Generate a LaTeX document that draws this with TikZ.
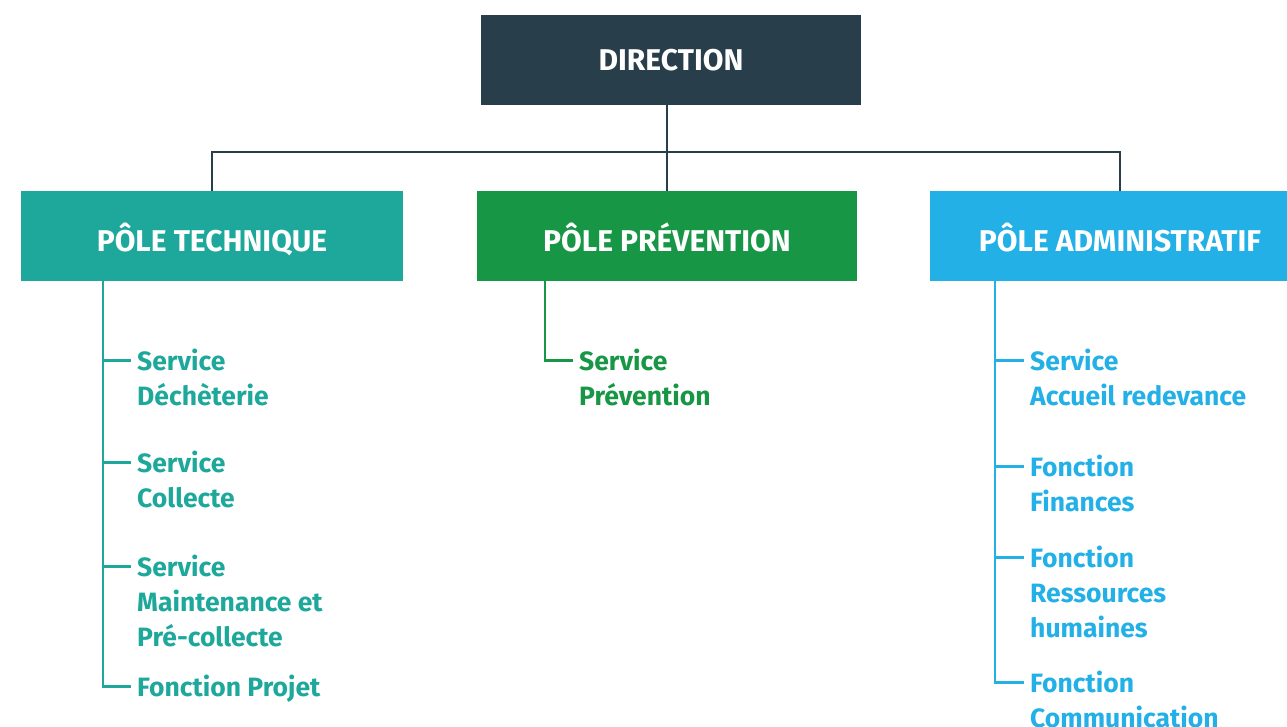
\documentclass[tikz,border=0pt]{standalone}
\usepackage{fontspec}
\setmainfont{Fira Sans}[BoldFont={* Bold}]
\usepackage{tikz}
\usetikzlibrary{positioning}

\definecolor{dircol}{HTML}{283F4B}
\definecolor{techcol}{HTML}{1DA89B}
\definecolor{prevcol}{HTML}{179645}
\definecolor{admcol}{HTML}{22B0E6}

\begin{document}
\begin{tikzpicture}[x=1pt,y=-1pt,
    pole/.style={rectangle,minimum width=380pt,minimum height=90pt,inner sep=0pt,
        text height=30pt,text depth=0pt,
        text=white,font=\fontsize{30}{36}\selectfont\bfseries},
    item/.style={anchor=base west,inner xsep=6pt,inner ysep=0pt,
        font=\fontsize{26.5}{35}\selectfont\bfseries},
    bus/.style={draw=dircol,line width=2.5pt},
    branch/.style={line width=2.5pt}
    ]
    \useasboundingbox (0,0) rectangle (1287,726);
    \clip (0,0) rectangle (1287,726);
    \path
        (671,60)    node[pole,fill=dircol,text height=21pt] (dir){DIRECTION}
        (212,236)   node[pole,fill=techcol,minimum width=382pt] (tech){PÔLE TECHNIQUE}
        (667,236)   node[pole,fill=prevcol] (prev){PÔLE PRÉVENTION}
        (1120,236)  node[pole,fill=admcol] (adm){PÔLE ADMINISTRATIF}
        ;
    \coordinate (bar) at (667,152);
    \draw[bus] (prev.north) -- (prev.north |- dir.south);
    \draw[bus] (tech.north) |- (bar) -| (adm.north);

    % pole technique
    \coordinate (techtrunk) at (103,281);
    \path[text=techcol]
        (131,370) node[item] (sdech){\vtop{\hbox{Service}\hbox{Déchèterie}}}
        (131,472) node[item] (scoll){\vtop{\hbox{Service}\hbox{Collecte}}}
        (131,576) node[item] (smaint){\vtop{\hbox{Service}\hbox{Maintenance et}\hbox{Pré-collecte}}}
        (131,696) node[item] (fproj){Fonction Projet}
        ;
    \draw[branch,techcol] (techtrunk) |- ([yshift=9.5pt]sdech.base west);
    \draw[branch,techcol] (techtrunk) |- ([yshift=9.5pt]scoll.base west);
    \draw[branch,techcol] (techtrunk) |- ([yshift=9.5pt]smaint.base west);
    \draw[branch,techcol] (techtrunk) |- ([yshift=9.5pt]fproj.base west);

    % pole prevention
    \coordinate (prevtrunk) at (545,281);
    \path[text=prevcol]
        (573,370) node[item] (sprev){\vtop{\hbox{Service}\hbox{Prévention}}}
        ;
    \draw[branch,prevcol] (prevtrunk) |- ([yshift=9.5pt]sprev.base west);

    % pole administratif
    \coordinate (admtrunk) at (995,281);
    \path[text=admcol]
        (1024,370) node[item] (saccu){\vtop{\hbox{Service}\hbox{Accueil redevance}}}
        (1024,476) node[item] (ffin){\vtop{\hbox{Fonction}\hbox{Finances}}}
        (1024,567) node[item] (frh){\vtop{\hbox{Fonction}\hbox{Ressources}\hbox{humaines}}}
        (1024,692) node[item] (fcom){\vtop{\hbox{Fonction}\hbox{Communication}}}
        ;
    \draw[branch,admcol] (admtrunk) |- ([yshift=9.5pt]saccu.base west);
    \draw[branch,admcol] (admtrunk) |- ([yshift=9.5pt]ffin.base west);
    \draw[branch,admcol] (admtrunk) |- ([yshift=9.5pt]frh.base west);
    \draw[branch,admcol] (admtrunk) |- ([yshift=9.5pt]fcom.base west);
\end{tikzpicture}
\end{document}
